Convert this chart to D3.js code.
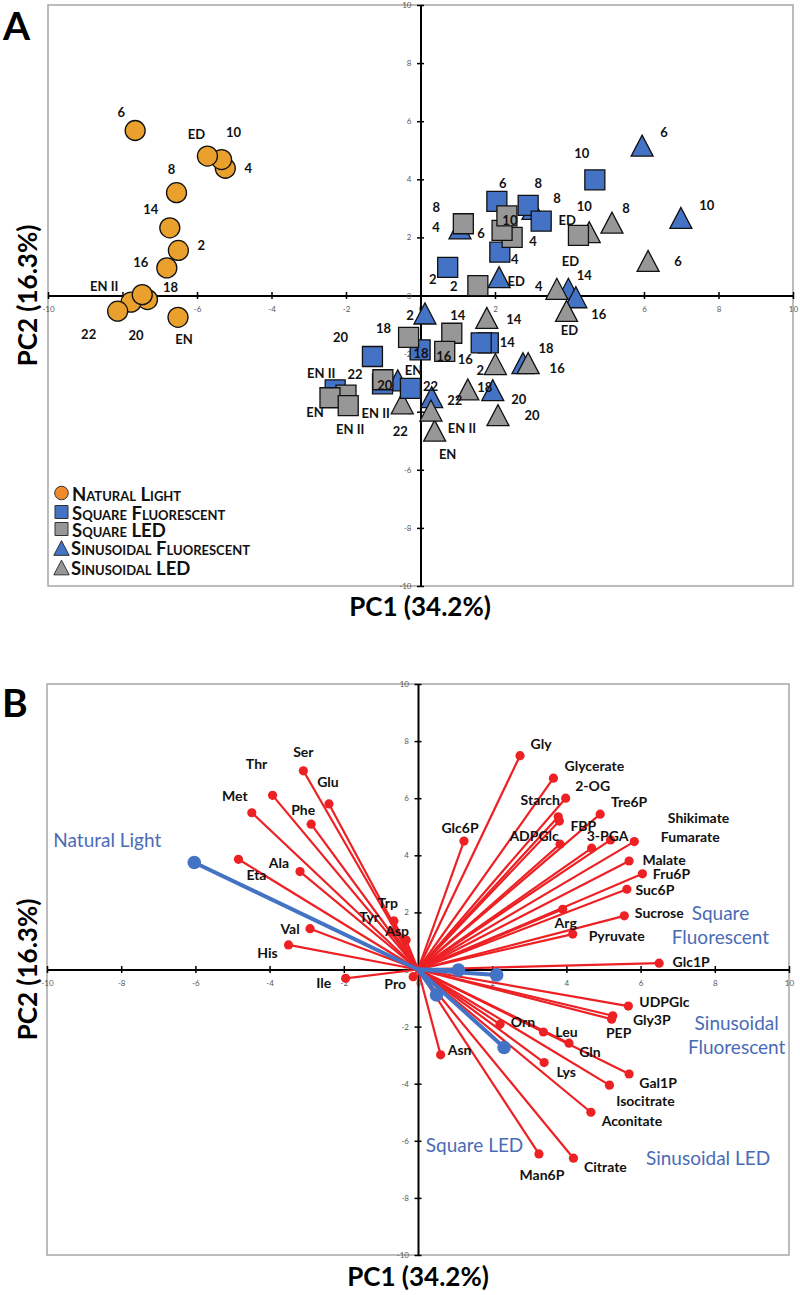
<!DOCTYPE html>
<html><head><meta charset="utf-8">
<script src="https://cdn.jsdelivr.net/npm/d3@7"></script>
<style>body{margin:0;background:#fff}svg{display:block}text{font-family:Lato,"Open Sans",sans-serif}</style>
</head><body><svg id="c" width="800" height="1295"></svg>
<script>
// ---------- DATA: panel A (scores) ----------
const times = ["2","4","6","8","10","14","16","18","20","22","ED","EN","EN II"];
const naturalPC1 = [-6.50,-5.24,-7.66,-6.55,-5.34,-6.73,-6.81,-7.33,-7.77,-8.13,-5.72,-6.51,-7.47];
const naturalPC2 = [1.55,4.38,5.68,3.54,4.68,2.33,0.95,-0.14,-0.23,-0.54,4.80,-0.75,0.03];
const sqFluorPC1 = [0.73,2.13,2.05,2.89,4.68,1.82,1.63,-0.01,-1.29,-0.27,3.24,-1.02,-2.29];
const sqFluorPC2 = [0.97,1.49,3.24,3.10,3.98,-1.63,-1.63,-1.87,-2.10,-3.20,2.56,-3.04,-3.25];
const sqLedPC1 = [1.54,2.46,2.19,1.15,2.32,0.84,0.65,-0.32,-1.01,-2.00,4.24,-2.43,-1.94];
const sqLedPC2 = [0.34,2.00,2.24,2.47,2.74,-1.30,-1.92,-1.44,-2.90,-3.43,2.07,-3.52,-3.79];
const sinFluorPC1 = [0.12,1.06,5.95,3.02,6.99,3.97,4.17,2.75,1.94,0.30,2.11,null,-0.61];
const sinFluorPC2 = [-0.62,2.31,5.16,2.98,2.67,0.23,-0.06,-2.33,-3.26,-3.50,0.63,null,-2.92];
const sinLedPC1 = [2.01,3.66,6.11,5.14,4.53,1.78,2.89,1.27,2.08,-0.49,3.92,0.38,0.28];
const sinLedPC2 = [-2.36,0.23,1.19,2.51,2.18,-0.77,-2.33,-3.23,-4.12,-3.71,-0.53,-4.65,-3.96];
const legendNames = ["Natural Light","Square Fluorescent","Square LED","Sinusoidal Fluorescent","Sinusoidal LED"];
const axisTicks = [-10,-8,-6,-4,-2,0,2,4,6,8,10];
const xTitle = "PC1 (34.2%)", yTitle = "PC2 (16.3%)";

// ---------- DATA: panel B (loadings) ----------
const metNames = ["Ser","Thr","Glu","Met","Phe","Eta","Ala","Trp","Tyr","Asp","Val","His","Ile","Pro","Gly","Glycerate","2-OG","Starch","FBP","ADPGlc","Tre6P","3-PGA","Shikimate","Fumarate","Malate","Fru6P","Suc6P","Sucrose","Arg","Pyruvate","Glc1P","Glc6P","UDPGlc","Gly3P","PEP","Orn","Leu","Gln","Asn","Lys","Gal1P","Isocitrate","Aconitate","Man6P","Citrate"];
const metPC1 = [-3.09,-3.92,-2.40,-4.48,-2.88,-4.84,-3.18,-0.65,-0.67,-0.32,-2.91,-3.49,-1.95,-0.13,2.75,3.65,3.98,3.78,3.81,3.83,4.91,4.68,5.19,5.83,5.69,6.05,5.63,5.56,3.90,4.17,6.50,1.24,5.67,5.25,5.22,2.21,3.38,4.07,0.61,3.40,5.69,5.16,4.66,3.26,4.19];
const metPC2 = [6.96,6.10,5.80,5.49,5.09,3.86,3.43,1.70,1.31,1.03,1.43,0.86,-0.31,-0.25,7.49,6.70,6.00,5.35,5.20,4.39,5.44,4.25,4.54,4.48,3.80,3.35,2.81,1.88,2.11,1.24,0.22,4.50,-1.28,-1.62,-1.74,-1.92,-2.19,-2.58,-2.99,-3.26,-3.66,-4.05,-5.00,-6.46,-6.61];
const condNames = ["Natural Light","Square Fluorescent","Sinusoidal Fluorescent","Square LED","Sinusoidal LED"];
const condPC1 = [-6.03,1.09,2.12,0.50,2.32];
const condPC2 = [3.75,-0.02,-0.19,-0.89,-2.73];

// ---------- LAYOUT (label offsets in px) ----------
const offNatural = [[23,-5],[23,0],[-14,-18],[-5,-23],[12,-27],[-19,-18],[-26,-6],[23,-12],[5,33],[-29,23],[-11,-22],[6,22],[-38,-8]];
const offSqFluor = [[-15,12],[15,7],[6,-18],[10,-22],[-13,-27],[19,-1],[-16,16],[1,3],[-32,-19],[20,-2],[26,-1],[31,-13],[-14,-17]];
const offSqLed = [[-24,1],[21,4],[-21,3],[-27,-16],[3,4],[6,-18],[-1,5],[-25,-9],[2,6],[9,-21],[-8,26],[-15,15],[2,24]];
const offSinFluor = [[-15,2],[-24,-1],[22,-13],[24,-11],[26,-13],[16,-13],[23,17],[23,-15],[26,9],[23,3],[17,4],null,[-22,33]];
const offSinLed = [[-15,6],[-18,-2],[30,0],[14,-14],[-5,-26],[27,1],[29,5],[17,-2],[34,0],[-2,28],[3,19],[13,24],[31,18]];
const offMet = [[0,-19],[-16,-31],[-1,-22],[-17,-17],[-8,-14],[18,16],[-21,-9],[-6,-18],[-24,-15],[-9,-9],[-20,0],[-21,8],[-22,5],[-18,7],[21,-12],[41,-12],[27,-12],[-18,-17],[24,5],[-26,-8],[29,-12],[16,-12],[88,-22],[56,-5],[35,-1],[29,0],[28,1],[35,-3],[3,14],[44,2],[32,-1],[-4,-13],[36,-4],[39,4],[7,14],[23,-2],[23,0],[21,9],[19,-5],[22,9],[29,9],[36,16],[41,9],[3,21],[32,9]];
const offCond = [[-87,-22],[262,-57],[240,48],[38,150],[204,111]];

const C = {orange:"#E9A02D", orangeLeg:"#EF8A2C", blue:"#4472C4", gray:"#979797", red:"#ED2024", lblue:"#4A6BB6"};

const svg = d3.select("#c");
const xA = d3.scaleLinear([-10,10],[48,793]);
const yA = d3.scaleLinear([-10,10],[586,5]);
const xB = d3.scaleLinear([-10,10],[47,789]);
const yB = d3.scaleLinear([-10,10],[1255,684]);

function frame(x, y) {
  const g = svg.append("g");
  g.append("rect").attr("x", x(-10)).attr("y", y(10)).attr("width", x(10)-x(-10)).attr("height", y(-10)-y(10))
    .attr("fill","none").attr("stroke","#a6a6a6").attr("stroke-width",1.5);
  const fmt = d => String(d);
  const style = s => {
    s.attr("font-family","Lato, sans-serif").attr("font-size",8);
    s.selectAll("text").attr("fill","#595959");
    s.selectAll(".tick line").attr("stroke","#000").attr("stroke-width",1.5);
    s.select(".domain").attr("stroke","#000").attr("stroke-width",2);
  };
  g.append("g").attr("transform",`translate(0,${y(0)})`)
    .call(d3.axisTop(x).tickValues(axisTicks).tickSizeInner(3.5).tickSizeOuter(0).tickFormat(""))
    .call(style).call(s=>s.select(".domain").remove());
  g.append("g").attr("transform",`translate(${x(0)},0)`)
    .call(d3.axisRight(y).tickValues(axisTicks).tickSizeInner(3.5).tickSizeOuter(0).tickFormat(""))
    .call(style).call(s=>s.select(".domain").remove());
  g.append("g").attr("transform",`translate(0,${y(0)})`)
    .call(d3.axisBottom(x).tickValues(axisTicks).tickSizeInner(3.5).tickSizeOuter(0).tickPadding(7.5).tickFormat(fmt))
    .call(style);
  g.append("g").attr("transform",`translate(${x(0)},0)`)
    .call(d3.axisLeft(y).tickValues(axisTicks).tickSizeInner(3.5).tickSizeOuter(0).tickPadding(5.5).tickFormat(fmt))
    .call(style);
}

function shapePath(shape, cx, cy, s) {
  if (shape === "square") { const h=s/2; return `M${cx-h},${cy-h}h${s}v${s}h${-s}Z`; }
  const w = s*1.1/2, h = s*1.05/2;
  return `M${cx-w},${cy+h}L${cx+w},${cy+h}L${cx},${cy-h}Z`;
}

// ---------- PANEL A ----------
frame(xA, yA);
const seriesA = [
  {pc1:naturalPC1, pc2:naturalPC2, off:offNatural, shape:"circle", fill:C.orange},
  {pc1:sinFluorPC1, pc2:sinFluorPC2, off:offSinFluor, shape:"triangle", fill:C.blue},
  {pc1:sinLedPC1, pc2:sinLedPC2, off:offSinLed, shape:"triangle", fill:C.gray},
  {pc1:sqFluorPC1, pc2:sqFluorPC2, off:offSqFluor, shape:"square", fill:C.blue},
  {pc1:sqLedPC1, pc2:sqLedPC2, off:offSqLed, shape:"square", fill:C.gray}
];
const gA = svg.append("g");
const labelsA = [];
seriesA.forEach(s => {
  const pts = times.map((t,i)=>({t, x:s.pc1[i], y:s.pc2[i], o:s.off[i]})).filter(d=>d.x!==null);
  pts.forEach(d => {
    const cx = xA(d.x), cy = yA(d.y);
    if (s.shape === "circle") gA.append("circle").attr("cx",cx).attr("cy",cy).attr("r",10).attr("fill",s.fill).attr("stroke","#111").attr("stroke-width",1.3);
    else gA.append("path").attr("d",shapePath(s.shape,cx,cy,20)).attr("fill",s.fill).attr("stroke","#111").attr("stroke-width",1.3).attr("stroke-linejoin","miter");
    if (d.o) labelsA.push({t:d.t, x:cx+d.o[0], y:cy+d.o[1]});
  });
});
svg.append("g").selectAll("text").data(labelsA).join("text")
  .attr("x",d=>d.x).attr("y",d=>d.y).attr("dy","0.36em").attr("text-anchor","middle")
  .attr("font-size",13).attr("font-weight","bold").attr("fill","#111").text(d=>d.t);

// legend
const legY = [493, 512, 529, 548, 567.5];
const legBase = [500.7, 520, 536.5, 554.8, 575];
const legShapes = ["circle","square","square","triangle","triangle"];
const legFills = [C.orangeLeg, C.blue, C.gray, C.blue, C.gray];
const gL = svg.append("g");
legendNames.forEach((n,i) => {
  if (legShapes[i]==="circle") gL.append("circle").attr("cx",61.5).attr("cy",legY[i]).attr("r",6.8).attr("fill",legFills[i]).attr("stroke","#333").attr("stroke-width",1);
  else gL.append("path").attr("d",shapePath(legShapes[i],61.5,legY[i],legShapes[i]==="square"?13:14)).attr("fill",legFills[i]).attr("stroke","#333").attr("stroke-width",1);
  gL.append("text").attr("x", i<3?72:71).attr("y",legBase[i]).attr("font-size",18.5).attr("font-weight","bold")
    .style("font-variant","small-caps").attr("fill","#111").text(n);
});

// titles A
svg.append("text").attr("x",3).attr("y",40).attr("font-size",39).attr("font-weight","bold").text("A");
svg.append("text").attr("x",420).attr("y",616).attr("text-anchor","middle").attr("font-size",26).attr("font-weight","bold").text(xTitle);
svg.append("text").attr("transform",`translate(37,${(yA(10)+yA(-10))/2}) rotate(-90)`).attr("text-anchor","middle").attr("font-size",26).attr("font-weight","bold").text(yTitle);

// ---------- PANEL B ----------
frame(xB, yB);
const gB = svg.append("g");
const mets = metNames.map((n,i)=>({n, x:metPC1[i], y:metPC2[i], o:offMet[i]}));
gB.selectAll("line.m").data(mets).join("line").attr("class","m")
  .attr("x1",xB(0)).attr("y1",yB(0)).attr("x2",d=>xB(d.x)).attr("y2",d=>yB(d.y))
  .attr("stroke",C.red).attr("stroke-width",2.2);
gB.selectAll("circle.m").data(mets).join("circle").attr("class","m")
  .attr("cx",d=>xB(d.x)).attr("cy",d=>yB(d.y)).attr("r",4.6).attr("fill",C.red);
const conds = condNames.map((n,i)=>({n, x:condPC1[i], y:condPC2[i], o:offCond[i]}));
gB.selectAll("line.c").data(conds).join("line").attr("class","c")
  .attr("x1",xB(0)).attr("y1",yB(0)).attr("x2",d=>xB(d.x)).attr("y2",d=>yB(d.y))
  .attr("stroke",C.blue).attr("stroke-width",4);
gB.selectAll("circle.c").data(conds).join("circle").attr("class","c")
  .attr("cx",d=>xB(d.x)).attr("cy",d=>yB(d.y)).attr("r",6.8).attr("fill",C.blue);
gB.selectAll("text.m").data(mets).join("text").attr("class","m")
  .attr("x",d=>xB(d.x)+d.o[0]).attr("y",d=>yB(d.y)+d.o[1]).attr("dy","0.36em").attr("text-anchor","middle")
  .attr("font-size",14).attr("font-weight","bold").attr("fill","#111").text(d=>d.n);
conds.forEach(d => {
  const words = (d.n.indexOf("Fluorescent")>=0) ? d.n.split(" ") : [d.n];
  const t = gB.append("text").attr("text-anchor","middle").attr("font-size",19).attr("fill",C.lblue);
  words.forEach((w,k) => t.append("tspan").attr("x",xB(d.x)+d.o[0]).attr("y",yB(d.y)+d.o[1]+k*24.5).attr("dy","0.36em").text(w));
});
svg.append("text").attr("x",2).attr("y",717).attr("font-size",39).attr("font-weight","bold").text("B");
svg.append("text").attr("x",418).attr("y",1286).attr("text-anchor","middle").attr("font-size",26).attr("font-weight","bold").text(xTitle);
svg.append("text").attr("transform",`translate(37,${(yB(10)+yB(-10))/2}) rotate(-90)`).attr("text-anchor","middle").attr("font-size",26).attr("font-weight","bold").text(yTitle);
</script></body></html>
